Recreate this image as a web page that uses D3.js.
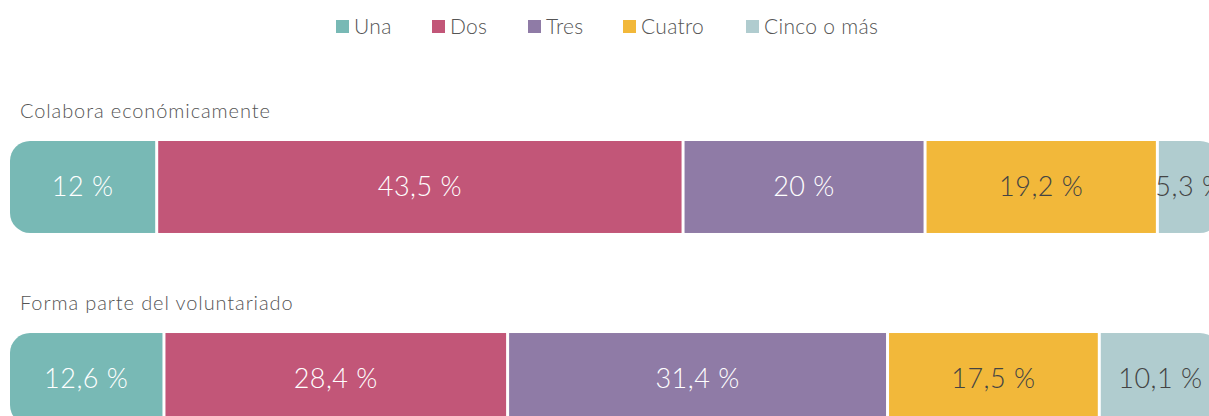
<!DOCTYPE html>
<html>
<head>
<meta charset="utf-8">
<script src="https://cdn.jsdelivr.net/npm/d3@7"></script>
<style>
  html, body { margin: 0; padding: 0; background: #fff; overflow: hidden; }
  text { font-family: "Lato", "Open Sans", sans-serif; font-weight: 300; }
</style>
</head>
<body>
<div id="chart"></div>
<script>
const categories = ["Una", "Dos", "Tres", "Cuatro", "Cinco o más"];
const colors = ["#78b9b5", "#c25678", "#8f7ba6", "#f2b83a", "#b0cccf"];
const labelColors = ["#fff", "#fff", "#fff", "#444", "#444"];
const rows = ["Colabora económicamente", "Forma parte del voluntariado"];
const colabora = [12, 43.5, 20, 19.2, 5.3];
const voluntariado = [12.6, 28.4, 31.4, 17.5, 10.1];
const values = [colabora, voluntariado];

const width = 1209, height = 416;

const svg = d3.select("#chart")
    .append("svg")
    .attr("width", width)
    .attr("height", height);

const x = d3.scaleLinear()
    .domain([0, 100])
    .range([10, 1220]);

const y = d3.scaleBand()
    .domain(rows)
    .range([141, 425])
    .paddingInner(0.521);

const gap = 3;
const radius = 20;

// legend
const legendX = [336, 432, 528, 623, 746];
const legend = svg.append("g")
    .selectAll("g")
    .data(categories)
    .join("g")
    .attr("transform", (d, i) => `translate(${legendX[i]}, 20)`);

legend.append("rect")
    .attr("width", 13)
    .attr("height", 13)
    .attr("fill", (d, i) => colors[i]);

legend.append("text")
    .attr("x", 18)
    .attr("y", 7)
    .attr("dy", "0.35em")
    .style("font-size", "21px")
    .style("letter-spacing", "0.3px")
    .attr("fill", "#555")
    .text(d => d);

// bars
rows.forEach((row, r) => {
    const data = values[r];
    let acc = 0;
    const segs = data.map((v, i) => {
        const s = { cat: categories[i], i: i, v: v, start: acc, end: acc + v };
        acc += v;
        return s;
    });

    const clipId = "clip" + r;
    svg.append("clipPath")
        .attr("id", clipId)
        .append("rect")
        .attr("x", x(0))
        .attr("y", y(row))
        .attr("width", x(100) - x(0))
        .attr("height", y.bandwidth())
        .attr("rx", radius)
        .attr("ry", radius);

    svg.append("text")
        .attr("x", 20)
        .attr("y", y(row) - 23)
        .style("font-size", "20px")
        .style("letter-spacing", "0.9px")
        .attr("fill", "#555")
        .text(row);

    const g = svg.append("g")
        .attr("clip-path", `url(#${clipId})`);

    g.selectAll("rect")
        .data(segs)
        .join("rect")
        .attr("x", d => d.i === 0 ? x(d.start) : x(d.start) + gap)
        .attr("y", y(row))
        .attr("width", d => x(d.end) - x(d.start) - (d.i === 0 ? 0 : gap))
        .attr("height", y.bandwidth())
        .attr("fill", d => colors[d.i]);

    svg.append("g")
        .selectAll("text")
        .data(segs)
        .join("text")
        .attr("x", d => (x(d.start) + x(d.end)) / 2 + (d.i === 0 ? 0 : gap / 2))
        .attr("y", y(row) + y.bandwidth() / 2)
        .attr("dy", "0.35em")
        .attr("text-anchor", "middle")
        .style("font-size", "27px")
        .style("letter-spacing", "0.5px")
        .attr("fill", d => labelColors[d.i])
        .text(d => String(d.v).replace(".", ",") + " %");
});
</script>
</body>
</html>
